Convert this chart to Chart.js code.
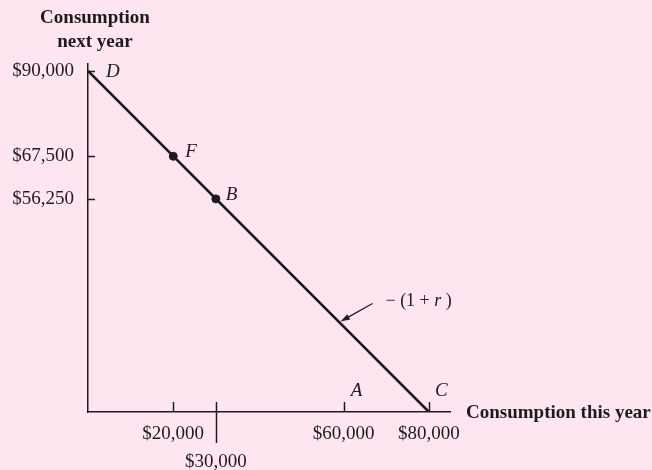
<!DOCTYPE html>
<html>
<head>
<meta charset="utf-8">
<script src="https://cdn.jsdelivr.net/npm/chart.js@4.4.1/dist/chart.umd.min.js"></script>
<style>
  html, body { margin: 0; padding: 0; background: #fde6f0; }
  canvas { display: block; }
</style>
</head>
<body>
<canvas id="c" width="652" height="470"></canvas>
<script>
// ---- data ----
const xTicks = [20000, 30000, 60000, 80000];
const yTicks = [56250, 67500, 90000];
const budgetX = [0, 80000];
const budgetY = [90000, 0];
const pointNames = ['F', 'B'];
const pointX = [20000, 30000];
const pointY = [67500, 56250];
const cornerNames = ['D', 'A', 'C'];
const cornerX = [0, 60000, 80000];
const cornerY = [90000, 0, 0];
const xTitle = 'Consumption this year';
const yTitle = ['Consumption', 'next year'];
const slopeAt = [59000, 90000 - 1.125 * 59000]; // point on the budget line the arrow touches

const INK = '#1f1b1c';
const BG = '#fde6f0';
const SERIF = '"Liberation Serif", "DejaVu Serif", serif';

const fmt = v => '$' + v.toLocaleString('en-US');

const decor = {
  id: 'decor',
  beforeDraw(chart) {
    const ctx = chart.ctx;
    ctx.save();
    ctx.fillStyle = BG;
    ctx.fillRect(0, 0, chart.width, chart.height);
    ctx.restore();
  },
  afterDraw(chart) {
    const ctx = chart.ctx;
    const xs = chart.scales.x, ys = chart.scales.y;
    const ca = chart.chartArea;
    ctx.save();
    ctx.strokeStyle = INK;
    ctx.fillStyle = INK;
    ctx.lineWidth = 1.5;
    // tick marks inside the plot
    xTicks.forEach(v => {
      const px = Math.round(xs.getPixelForValue(v)) + 0.5;
      ctx.beginPath();
      ctx.moveTo(px, ca.bottom - 10);
      ctx.lineTo(px, v === 30000 ? ca.bottom + 31 : ca.bottom);
      ctx.stroke();
    });
    yTicks.forEach(v => {
      const py = Math.round(ys.getPixelForValue(v)) + 0.5;
      ctx.beginPath();
      ctx.moveTo(ca.left, py);
      ctx.lineTo(ca.left + 7, py);
      ctx.stroke();
    });
    // axis titles
    ctx.font = 'bold 19px ' + SERIF;
    ctx.textAlign = 'center';
    ctx.textBaseline = 'middle';
    ctx.fillText(yTitle[0], 95, 18);
    ctx.fillText(yTitle[1], 95, 42);
    ctx.textAlign = 'left';
    ctx.fillText(xTitle, ca.right + 16, ca.bottom + 1);
    // point labels
    ctx.font = 'italic 19px ' + SERIF;
    ctx.textAlign = 'left';
    const off = {D: [18, 1], F: [12, -4], B: [10, -4], A: [7, -21], C: [6, -21]};
    cornerNames.forEach((n, i) => {
      const px = xs.getPixelForValue(cornerX[i]), py = ys.getPixelForValue(cornerY[i]);
      ctx.fillText(n, px + off[n][0], py + off[n][1]);
    });
    pointNames.forEach((n, i) => {
      const px = xs.getPixelForValue(pointX[i]), py = ys.getPixelForValue(pointY[i]);
      ctx.fillText(n, px + off[n][0], py + off[n][1]);
    });
    // slope arrow
    const tx = xs.getPixelForValue(slopeAt[0]) + 1;
    const ty = ys.getPixelForValue(slopeAt[1]) - 1;
    const sx = tx + 32, sy = ty - 18;
    ctx.lineWidth = 1.3;
    ctx.beginPath();
    ctx.moveTo(sx, sy);
    ctx.lineTo(tx + 6, ty - 3.4);
    ctx.stroke();
    const ang = Math.atan2(ty - sy, tx - sx);
    ctx.beginPath();
    ctx.moveTo(tx, ty);
    ctx.lineTo(tx - 10 * Math.cos(ang - 0.3), ty - 10 * Math.sin(ang - 0.3));
    ctx.lineTo(tx - 10 * Math.cos(ang + 0.3), ty - 10 * Math.sin(ang + 0.3));
    ctx.closePath();
    ctx.fill();
    ctx.font = '18px ' + SERIF;
    ctx.textAlign = 'left';
    ctx.textBaseline = 'middle';
    ctx.fillText('\u2212 (1 + ', sx + 13, sy - 2);
    const w1 = ctx.measureText('\u2212 (1 + ').width;
    ctx.font = 'italic 18px ' + SERIF;
    ctx.fillText('r', sx + 13 + w1, sy - 2);
    const w2 = ctx.measureText('r ').width;
    ctx.font = '18px ' + SERIF;
    ctx.fillText(')', sx + 13 + w1 + w2, sy - 2);
    ctx.restore();
  }
};

new Chart(document.getElementById('c'), {
  type: 'scatter',
  data: {
    datasets: [
      {
        type: 'line',
        data: budgetX.map((x, i) => ({x, y: budgetY[i]})),
        borderColor: INK,
        borderWidth: 2.6,
        pointRadius: 0,
        fill: false,
        tension: 0
      },
      {
        data: pointX.map((x, i) => ({x, y: pointY[i]})),
        backgroundColor: INK,
        borderColor: INK,
        pointRadius: 4,
        pointHoverRadius: 4
      }
    ]
  },
  options: {
    responsive: false,
    devicePixelRatio: 1,
    animation: false,
    events: [],
    layout: { padding: { left: 0, top: 64, right: 202, bottom: 0 } },
    plugins: { legend: { display: false }, tooltip: { enabled: false }, title: { display: false } },
    scales: {
      x: {
        type: 'linear',
        min: 0,
        max: 84930,
        afterBuildTicks: s => { s.ticks = xTicks.map(v => ({value: v})); },
        afterFit: s => { s.height = 58; },
        grid: { display: false, drawTicks: false },
        border: { display: true, color: INK, width: 1.5 },
        ticks: {
          padding: 8,
          color: INK,
          font: { family: SERIF, size: 19, lineHeight: 1.47 },
          maxRotation: 0,
          autoSkip: false,
          callback: v => v === 30000 ? ['', fmt(v)] : fmt(v)
        }
      },
      y: {
        type: 'linear',
        min: 0,
        max: 91850,
        afterBuildTicks: s => { s.ticks = yTicks.map(v => ({value: v})); },
        afterFit: s => { s.width = 88; },
        grid: { display: false, drawTicks: false },
        border: { display: true, color: INK, width: 1.5 },
        ticks: {
          padding: 14,
          color: INK,
          font: { family: SERIF, size: 19 },
          autoSkip: false,
          callback: v => fmt(v)
        }
      }
    }
  },
  plugins: [decor]
});
</script>
</body>
</html>
